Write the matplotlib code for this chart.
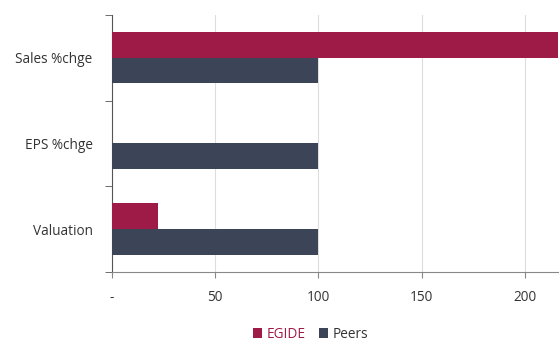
import numpy as np
import matplotlib
matplotlib.use("Agg")
import matplotlib.pyplot as plt

categories = ["Sales %chge", "EPS %chge", "Valuation"]
egide = [240, 0, 22.5]
peers = [100, 100, 100]
x_ticks = [0, 50, 100, 150, 200]
x_labels = ["-", "50", "100", "150", "200"]

plt.rcParams['font.family'] = ['Open Sans', 'DejaVu Sans']

fig = plt.figure(figsize=(5.6, 3.45), dpi=100)
ax = fig.add_axes([0.2, 0.212, 0.796, 0.745])

y = np.arange(len(categories))
h = 0.3
ax.barh(y - h / 2, egide, height=h, color="#9E1A47", label="EGIDE", zorder=3)
ax.barh(y + h / 2, peers, height=h, color="#3C4558", label="Peers", zorder=3)

ax.set_ylim(len(categories) - 0.5, -0.5)
ax.set_xlim(0, 216)
ax.set_yticks(y)
ax.set_yticklabels(categories, fontsize=9.8, color="#333333")
ax.set_yticks(np.arange(-0.5, len(categories)), minor=True)
ax.tick_params(axis="y", which="major", length=0, pad=14)
ax.tick_params(axis="y", which="minor", length=5, color="#555555")
ax.set_xticks(x_ticks)
ax.set_xticklabels(x_labels, fontsize=9.8, color="#333333")
ax.tick_params(axis="x", length=4, color="#888888", pad=9)

ax.grid(axis="x", color="#dddddd", linewidth=0.8, zorder=0)
for s in ["top", "right"]:
    ax.spines[s].set_visible(False)
ax.spines["left"].set_color("#555555")
ax.spines["bottom"].set_color("#888888")

ax.legend(loc="upper center", bbox_to_anchor=(0.445, -0.165), ncol=2, frameon=False,
          fontsize=9.8, handlelength=0.7, handleheight=0.7, handletextpad=0.3,
          columnspacing=1.0)
leg = ax.get_legend()
leg.get_texts()[0].set_color("#9E1A47")
leg.get_texts()[1].set_color("#333333")

fig.savefig("out.png", dpi=100)
